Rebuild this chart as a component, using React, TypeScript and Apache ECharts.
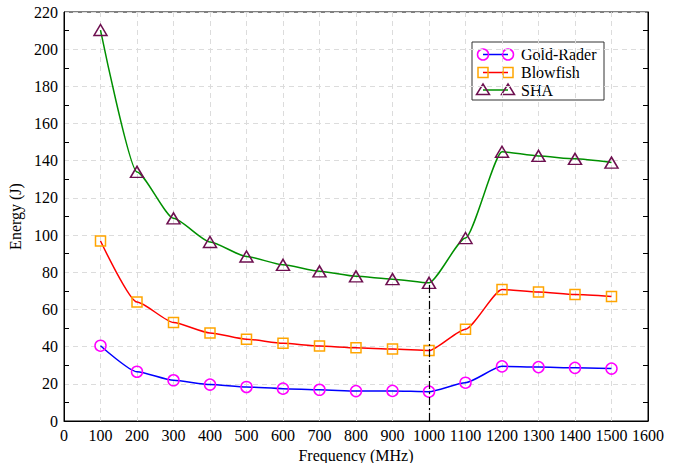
import React, { useEffect, useRef } from "react";
import * as echarts from "echarts";

const frequencies = [100, 200, 300, 400, 500, 600, 700, 800, 900, 1000, 1100, 1200, 1300, 1400, 1500];
const goldRader = [40.5, 26.5, 21.9, 19.6, 18.3, 17.4, 16.8, 16.1, 16.2, 15.8, 20.6, 29.4, 29.0, 28.6, 28.2];
const blowfish = [96.8, 64, 53, 47.4, 44, 41.8, 40.3, 39.4, 38.7, 37.9, 49.4, 70.7, 69.4, 68.0, 67.0];
const sha = [210.3, 134, 109, 96.3, 88.5, 84, 80.5, 77.8, 76.3, 74.3, 98.4, 144.8, 142.6, 141, 139];
const seriesNames = ["Gold-Rader", "Blowfish", "SHA"];
const markerFrequency = 1000;

const FONT = "'Liberation Serif', 'DejaVu Serif', serif";

export default function App() {
  const ref = useRef<HTMLDivElement>(null);
  useEffect(() => {
    if (!ref.current) return;
    const chart = echarts.init(ref.current, undefined, { renderer: "svg" });
    const mk = (ys: number[]) => frequencies.map((f, i) => [f, ys[i]]);
    const mIdx = frequencies.indexOf(markerFrequency);

    const legendX0 = 472, legendY0 = 42;
    const rowY = [12.5, 30.5, 48];
    const legendItems: any[] = [
      { type: "rect", shape: { x: legendX0, y: legendY0, width: 132, height: 58 }, style: { fill: "#fff", stroke: "#333", lineWidth: 1 } },
    ];
    const lineColors = ["#0000ff", "#ff0000", "#009000"];
    const markColors = ["#ff00ff", "#ffa500", "#6e1050"];
    rowY.forEach((dy, i) => {
      const y = legendY0 + dy;
      legendItems.push({ type: "line", shape: { x1: 483, y1: y, x2: 508, y2: y }, style: { stroke: lineColors[i], lineWidth: 1.5 } });
      [483, 508].forEach((cx) => {
        if (i === 0) legendItems.push({ type: "circle", shape: { cx, cy: y, r: 5.5 }, style: { fill: "none", stroke: markColors[i], lineWidth: 1.5 } });
        if (i === 1) legendItems.push({ type: "rect", shape: { x: cx - 5, y: y - 5, width: 10, height: 10 }, style: { fill: "none", stroke: markColors[i], lineWidth: 1.5 } });
        if (i === 2) legendItems.push({ type: "polygon", shape: { points: [[cx, y - 6], [cx + 6.5, y + 4.5], [cx - 6.5, y + 4.5]] }, style: { fill: "none", stroke: markColors[i], lineWidth: 1.5 } });
      });
      legendItems.push({ type: "text", x: 521, y, style: { text: seriesNames[i], font: `16px ${FONT}`, fill: "#000", verticalAlign: "middle", align: "left" } });
    });

    const yAxisCommon = {
      type: "value",
      min: 0,
      max: 220,
      interval: 20,
      axisLine: { show: true, lineStyle: { color: "#000", width: 1 } },
      axisTick: { show: false, inside: true },
      minorTick: { show: true, splitNumber: 2, length: 5, lineStyle: { color: "#000", width: 1 } },
    };

    chart.setOption({
      animation: false,
      textStyle: { fontFamily: FONT },
      grid: { left: 64, right: 36, top: 12, bottom: 42, containLabel: false, outerBoundsMode: "none", show: true, borderColor: "#000", borderWidth: 1 },
      xAxis: {
        type: "value",
        min: 0,
        max: 1600,
        interval: 100,
        name: "Frequency (MHz)",
        nameLocation: "middle",
        nameGap: 20,
        nameTextStyle: { fontSize: 16, color: "#000", fontFamily: FONT },
        axisLine: { show: true, lineStyle: { color: "#000" } },
        axisTick: { show: false },
        axisLabel: { interval: 0, fontSize: 16, color: "#000", fontFamily: FONT, margin: 6, formatter: (v: number) => String(v) },
        splitLine: { show: true, lineStyle: { color: "#dcdcdc", type: [5, 4], width: 1 } },
      },
      yAxis: [
        {
          ...yAxisCommon,
          position: "left",
          name: "Energy (J)",
          nameLocation: "middle",
          nameGap: 40,
          nameTextStyle: { fontSize: 16, color: "#000", fontFamily: FONT },
          axisLabel: { fontSize: 16, color: "#000", fontFamily: FONT, margin: 6, formatter: (v: number) => String(v) },
          splitLine: { show: true, lineStyle: { color: "#dcdcdc", type: [5, 4], width: 1 } },
        },
        {
          ...yAxisCommon,
          position: "right",
          axisLabel: { show: false },
          splitLine: { show: false },
        },
      ],
      series: [
        {
          name: seriesNames[0],
          type: "line",
          data: mk(goldRader),
          smooth: 0.2,
          smoothMonotone: "x",
          symbol: "circle",
          symbolSize: 11,
          lineStyle: { color: lineColors[0], width: 1.5 },
          itemStyle: { color: "rgba(0,0,0,0)", borderColor: markColors[0], borderWidth: 1.5 },
          z: 3,
        },
        {
          name: seriesNames[1],
          type: "line",
          data: mk(blowfish),
          smooth: 0.2,
          smoothMonotone: "x",
          symbol: "rect",
          symbolSize: 10,
          lineStyle: { color: lineColors[1], width: 1.5 },
          itemStyle: { color: "rgba(0,0,0,0)", borderColor: markColors[1], borderWidth: 1.5 },
          z: 3,
        },
        {
          name: seriesNames[2],
          type: "line",
          data: mk(sha),
          smooth: 0.2,
          smoothMonotone: "x",
          symbol: "triangle",
          symbolSize: [13, 11],
          lineStyle: { color: lineColors[2], width: 1.5 },
          itemStyle: { color: "rgba(0,0,0,0)", borderColor: markColors[2], borderWidth: 1.5 },
          z: 3,
          markLine: {
            silent: true,
            symbol: ["none", "none"],
            label: { show: false },
            lineStyle: { color: "#000", type: [8, 3, 2, 3], width: 1.2 },
            data: [[{ coord: [markerFrequency, 0] }, { coord: [markerFrequency, sha[mIdx]] }]],
          },
        },
      ],
      graphic: legendItems,
    });
    return () => chart.dispose();
  }, []);
  return <div ref={ref} style={{ position: "absolute", left: 0, top: 0, width: 684, height: 463, background: "#fff" }} />;
}
